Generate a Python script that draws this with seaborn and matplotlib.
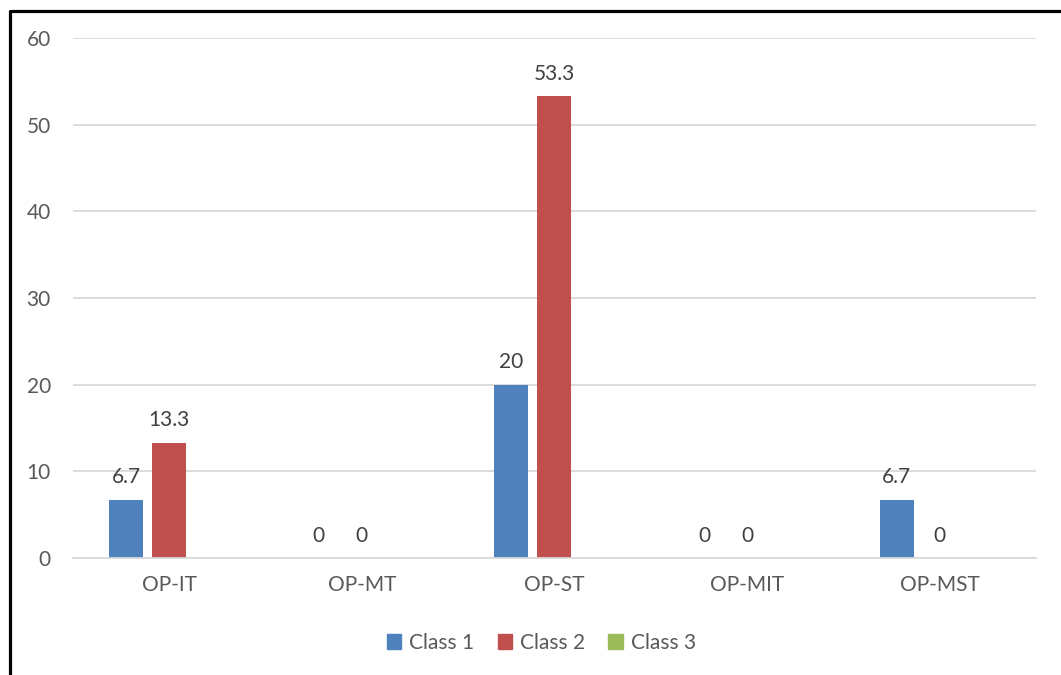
import numpy as np
import pandas as pd
import matplotlib
matplotlib.use("Agg")
import matplotlib.pyplot as plt
from matplotlib.lines import Line2D
import seaborn as sns

# Data
categories = ["OP-IT", "OP-MT", "OP-ST", "OP-MIT", "OP-MST"]
class_1 = [6.7, 0, 20, 0, 6.7]
class_2 = [13.3, 0, 53.3, 0, 0]
class_3 = [0, 0, 0, 0, 0]
series_names = ["Class 1", "Class 2", "Class 3"]
y_ticks = [0, 10, 20, 30, 40, 50, 60]

colors = ["#4F81BD", "#C0504D", "#9BBB59"]

df = pd.DataFrame({
    "category": categories * 3,
    "series": np.repeat(series_names, len(categories)),
    "value": class_1 + class_2 + class_3,
})

sns.set_theme(style="white")
plt.rcParams["font.family"] = ["Lato", "DejaVu Sans"]

fig = plt.figure(figsize=(10.61, 6.75), dpi=100)
ax = fig.add_axes([0.0688, 0.1733, 0.9076, 0.7704])

sns.barplot(data=df, x="category", y="value", hue="series",
            order=categories, hue_order=series_names, palette=colors,
            saturation=1, width=0.67, gap=0.21, linewidth=0, ax=ax,
            legend=True)

# Value labels for the first two series only
for container, name in zip(ax.containers, series_names):
    if name == "Class 3":
        continue
    ax.bar_label(container, labels=[f"{v:g}" for v in container.datavalues],
                 padding=9, fontsize=15, color="#404040")

ax.set_ylim(0, 60)
ax.set_xlim(-0.5, len(categories) - 0.5)
ax.set_yticks(y_ticks)
ax.set_yticklabels([str(t) for t in y_ticks])
ax.grid(axis="y", color="#D9D9D9", linewidth=1.3)
ax.set_axisbelow(True)
for side in ["top", "right", "left"]:
    ax.spines[side].set_visible(False)
ax.spines["bottom"].set_color("#D9D9D9")
ax.spines["bottom"].set_linewidth(1.3)
ax.tick_params(axis="y", length=0, pad=16, labelsize=15, labelcolor="#595959")
ax.tick_params(axis="x", length=0, pad=12, labelsize=15, labelcolor="#595959")
ax.set_xlabel("")
ax.set_ylabel("")

ax.get_legend().remove()
handles = [plt.Rectangle((0, 0), 1, 1, color=c) for c in colors]
fig.legend(handles, series_names, loc="center", bbox_to_anchor=(0.5104, 0.0474),
           ncol=3, frameon=False, fontsize=15, handlelength=0.7,
           handleheight=0.7, handletextpad=0.4, columnspacing=1.1,
           labelcolor="#595959")

# Outer frame (top and left edges)
fig.add_artist(Line2D([10.5 / 1061, 1.0], [1 - 10.5 / 675, 1 - 10.5 / 675],
                      transform=fig.transFigure, color="black", linewidth=2.3))
fig.add_artist(Line2D([10 / 1061, 10 / 1061], [0.0, 1 - 10.5 / 675],
                      transform=fig.transFigure, color="black", linewidth=2.3))

fig.savefig("out.png", dpi=100, facecolor="white")
